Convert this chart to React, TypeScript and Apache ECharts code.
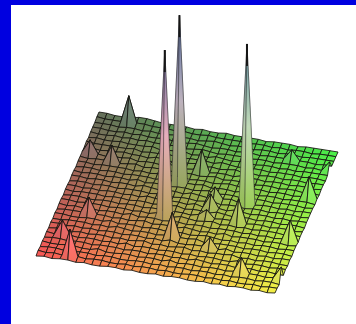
import React, { useEffect, useRef } from "react";
import * as echarts from "echarts";

const GRID_CELLS = 30;
// Estimated surface undulation per mesh vertex; rows run front (v=0) to back (v=30).
const surfaceRows: number[][] = [
  [0,1,0,1,1,0,1,0,0,1,1,0,1,0,0,1,0,1,1,0,0,1,0,1,0,1,1,0,1,0,1],
  [1,0,1,0,1,1,0,1,1,0,0,1,0,1,1,0,1,0,0,1,1,0,1,0,1,0,0,1,0,1,1],
  [0,1,1,0,0,1,1,0,1,1,0,0,1,1,0,1,0,1,1,0,1,1,0,1,0,1,1,0,1,1,0],
  [1,0,0,1,1,0,0,2,0,0,1,1,0,1,1,0,2,0,1,1,0,1,1,0,1,0,1,1,0,1,1],
  [0,1,1,0,1,1,0,1,1,1,0,1,1,0,1,1,0,1,0,2,1,0,1,1,0,1,1,0,1,0,0],
  [1,0,0,1,0,1,1,0,1,0,2,0,1,1,0,1,1,0,1,0,1,1,0,0,2,0,1,1,0,1,1],
  [0,1,1,0,1,0,1,1,0,1,0,1,2,0,1,0,1,2,0,1,0,1,1,2,0,1,0,1,1,0,0],
  [1,1,0,1,0,1,0,1,1,0,1,1,0,1,0,2,0,0,1,1,1,0,2,0,1,1,0,1,0,1,1],
  [0,0,1,1,1,0,1,0,2,1,0,1,1,0,1,0,1,1,2,0,0,1,1,1,0,1,1,0,1,1,0],
  [1,1,0,0,1,1,0,2,0,1,1,0,1,1,0,1,1,0,1,2,1,0,1,0,1,0,1,1,0,1,1],
  [0,1,1,1,0,1,1,0,1,0,1,2,0,1,1,0,2,1,0,1,0,2,0,1,1,1,0,1,1,0,1],
  [1,0,1,0,1,0,1,1,0,2,0,1,1,0,1,1,0,1,1,0,1,1,1,0,1,0,1,0,1,1,0],
  [1,1,0,1,1,1,0,1,1,0,1,0,2,1,0,2,1,0,1,2,0,1,0,1,0,1,1,1,0,1,1],
  [0,1,1,0,0,1,1,0,1,1,0,1,1,0,1,1,0,2,1,0,1,1,2,0,1,1,0,1,1,0,1],
  [1,0,1,1,1,0,1,1,0,1,1,0,1,1,2,0,1,1,0,2,1,0,1,1,0,1,1,0,1,1,0],
  [1,1,0,1,0,1,1,0,1,0,2,1,0,1,1,0,2,0,1,1,0,2,1,0,1,1,0,1,0,1,1],
  [0,1,1,0,1,1,0,1,1,1,0,1,2,0,1,1,0,1,2,0,1,1,0,1,1,0,1,1,1,0,1],
  [1,1,0,1,1,0,1,1,0,2,1,0,1,1,0,2,1,0,1,1,2,0,1,0,1,1,0,1,0,1,1],
  [1,0,1,1,0,1,1,0,2,0,1,1,0,1,1,0,1,2,0,1,1,0,1,1,1,0,1,1,1,0,1],
  [0,1,1,0,1,1,0,1,1,1,0,2,1,0,1,1,2,0,1,1,0,2,1,0,1,1,0,1,1,1,0],
  [1,1,0,1,1,1,1,0,1,0,1,1,1,2,0,1,1,0,1,2,1,0,1,1,0,1,1,0,1,1,1],
  [1,0,1,1,1,0,1,2,0,1,1,0,1,1,1,0,1,2,0,1,1,1,0,1,1,0,1,1,0,1,0],
  [1,1,1,0,1,1,2,0,1,1,0,2,1,0,1,1,0,1,1,0,2,1,1,0,1,1,0,1,1,0,1],
  [1,1,0,1,1,2,1,1,0,2,1,0,1,1,2,0,1,0,1,2,0,1,0,1,1,0,1,1,0,1,1],
  [2,1,1,1,1,1,2,0,1,1,2,1,0,1,1,1,0,2,1,0,1,1,1,0,1,1,1,0,1,1,0],
  [1,2,1,1,2,1,1,1,2,0,1,1,2,0,1,0,2,1,0,1,1,0,1,1,0,1,0,1,1,1,1],
  [2,1,1,2,1,2,1,2,1,1,1,2,0,1,2,1,0,1,1,1,0,1,1,0,1,1,1,0,1,0,1],
  [2,2,1,1,2,1,2,1,1,2,1,0,1,2,1,0,1,1,0,1,1,0,1,1,1,0,1,1,0,1,1],
  [2,2,2,1,2,2,1,2,1,1,2,1,1,0,1,2,1,0,1,1,0,1,1,0,1,1,0,1,1,1,1],
  [3,2,2,2,3,3,3,2,2,2,1,2,1,1,2,1,1,1,1,0,1,1,0,1,0,1,1,0,1,1,1],
  [3,3,2,2,2,4,4,3,2,2,2,2,1,2,1,1,2,1,1,1,1,0,1,1,1,0,1,1,1,1,1],
];
// Spikes: mesh column, mesh row and height.
const peakU = [13, 13, 22, 22, 4, 1, 4, 4, 4, 2, 15, 15, 18, 18, 18, 20, 25, 30, 29, 29, 25, 30];
const peakV = [19, 12, 17, 13, 29, 22, 21, 10, 1, 5, 8, 22, 17, 15, 13, 7, 3, 3, 11, 20, 27, 26];
const peakZ = [168, 166, 160, 24, 29, 14, 17, 17, 27, 15, 25, 22, 12, 14, 8, 11, 16, 13, 21, 22, 11, 10];

const cornerFront = [36, 256];
const cornerRight = [275, 294];
const cornerBack = [99, 115];

type RGB = [number, number, number];
const colA: RGB = [250, 86, 86];
const colB: RGB = [244, 240, 70];
const colC: RGB = [72, 240, 72];
const colD: RGB = [100, 112, 92];

const heights: number[][] = surfaceRows.map((r) => r.slice());
peakU.forEach((u, i) => { heights[peakV[i]][u] = peakZ[i]; });

const project = (u: number, v: number, z: number) => {
  const fu = u / GRID_CELLS, fv = v / GRID_CELLS;
  return [
    cornerFront[0] + fu * (cornerRight[0] - cornerFront[0]) + fv * (cornerBack[0] - cornerFront[0]),
    cornerFront[1] + fu * (cornerRight[1] - cornerFront[1]) + fv * (cornerBack[1] - cornerFront[1]) - z,
  ];
};
const base = (u: number, v: number): RGB => {
  const fu = u / GRID_CELLS, fv = v / GRID_CELLS;
  return [0, 1, 2].map((k) =>
    colA[k] * (1 - fu) * (1 - fv) + colB[k] * fu * (1 - fv) + colC[k] * fu * fv + colD[k] * (1 - fu) * fv
  ) as RGB;
};
const css = (c: RGB, f = 1) =>
  `rgb(${c.map((x) => Math.max(0, Math.min(255, Math.round(x * f)))).join(",")})`;
const toneAt = (b: RGB, z: number): RGB => {
  const t = Math.min(1, z / 170);
  const low: RGB = [b[0] * 0.98 + 4, b[1] * 0.98 + 4, b[2] + 10];
  const mid: RGB = [b[0] * 1.1 + 26, b[1] * 1.0 + 14, 190];
  const top: RGB = [b[0] * 0.55, b[1] * 0.65, 160];
  const lerp = (p: RGB, q: RGB, s: number) => p.map((x, i) => x + (q[i] - x) * s) as RGB;
  return t < 0.5 ? lerp(low, mid, t * 2) : lerp(mid, top, (t - 0.5) * 2);
};

const cells: number[][] = [];
for (let v = GRID_CELLS - 1; v >= 0; v--) {
  for (let u = 0; u < GRID_CELLS; u++) cells.push([u, v]);
}
const tallPeaks = peakU.map((u, i) => [u, peakV[i], peakZ[i]]).filter((p) => p[2] > 100);
const TIP_LENGTH = 22;

export default function App() {
  const ref = useRef<HTMLDivElement>(null);
  useEffect(() => {
    document.body.style.margin = "0";
    const chart = echarts.init(ref.current!, null, { renderer: "svg" });
    chart.setOption({
      animation: false,
      backgroundColor: "#ffffff",
      grid: { left: 0, right: 0, top: 0, bottom: 0 },
      xAxis: { type: "value", min: 0, max: 356, show: false },
      yAxis: { type: "value", min: 0, max: 324, inverse: true, show: false },
      graphic: [
        { type: "rect", shape: { x: 0, y: 0, width: 356, height: 5 }, style: { fill: "#0000e0" } },
        { type: "rect", shape: { x: 0, y: 0, width: 11, height: 324 }, style: { fill: "#0000e0" } },
      ],
      series: [
        {
          type: "custom",
          silent: true,
          clip: false,
          data: cells,
          renderItem: (_p: any, api: any) => {
            const u = api.value(0), v = api.value(1);
            const corners: number[][] = [[u, v], [u + 1, v], [u + 1, v + 1], [u, v + 1]];
            const zs = corners.map(([a, b]) => heights[b][a]);
            const pts = corners.map(([a, b], i) => api.coord(project(a, b, zs[i])));
            const b = base(u + 0.5, v + 0.5);
            const zMax = Math.max(...zs);
            const dzu = (zs[1] + zs[2] - zs[0] - zs[3]) / 2;
            const dzv = (zs[2] + zs[3] - zs[0] - zs[1]) / 2;
            let fill: any = css(b);
            if (zMax > 5) {
              const len = Math.hypot(dzu, dzv, 8);
              const side = (-dzv * 0.5 - dzu * 0.5) / len;
              const f = 1 + side * 0.08;
              const ys = pts.map((p) => p[1]);
              const y0 = Math.min(...ys), y1 = Math.max(...ys);
              fill = new echarts.graphic.LinearGradient(0, y0, 0, y1, [
                { offset: 0, color: css(toneAt(b, zMax), f) },
                { offset: 0.5, color: css(toneAt(b, zMax / 2), f) },
                { offset: 1, color: css(toneAt(b, 0), f) },
              ], true);
            } else {
              fill = css(b, 1 + (dzu - dzv) * 0.012);
            }
            const steep = zMax > 60;
            return {
              type: "polygon",
              shape: { points: pts },
              style: {
                fill,
                stroke: steep ? "rgba(30,30,30,0.6)" : "rgba(20,20,15,0.85)",
                lineWidth: steep ? 0.7 : 1,
              },
            };
          },
        },
        {
          type: "custom",
          silent: true,
          clip: false,
          data: tallPeaks,
          renderItem: (_p: any, api: any) => {
            const u = api.value(0), v = api.value(1), z = api.value(2);
            const a = api.coord(project(u, v, z));
            const c = api.coord(project(u, v, z - TIP_LENGTH));
            return {
              type: "line",
              shape: { x1: a[0], y1: a[1], x2: c[0], y2: c[1] },
              style: { stroke: "#151515", lineWidth: 2 },
            };
          },
        },
      ],
    });
    return () => chart.dispose();
  }, []);
  return <div ref={ref} style={{ position: "fixed", left: 0, top: 0, width: 356, height: 324, filter: "blur(0.35px)" }} />;
}
